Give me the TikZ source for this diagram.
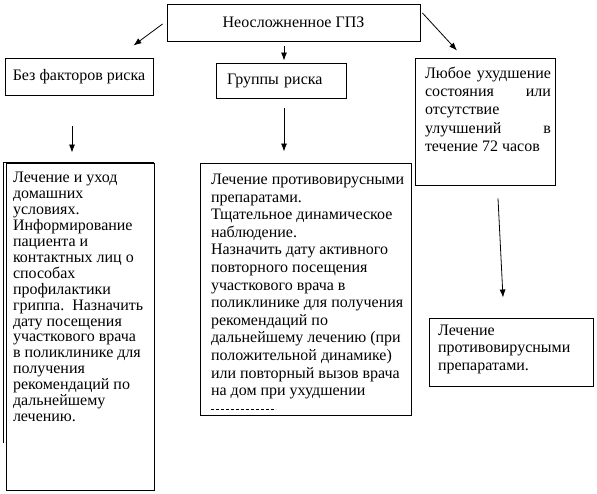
\documentclass[tikz,border=0pt]{standalone}
\usepackage{fontspec}
\setmainfont{Liberation Serif}
\usetikzlibrary{arrows.meta,calc}
\tikzstyle{arrow} = [-{Latex[length=8pt,width=6pt]}, line width=0.8pt]
\tikzstyle{box} = [draw, line width=0.9pt, font=\fontsize{16}{18}\selectfont]
\tikzstyle{tallbox} = [box, inner xsep=0pt]
% text block pinned to the top of a box: height, width, line skip, text
\newcommand{\boxtext}[4]{\parbox[t][#1][t]{#2}{\fontsize{16}{#3}\selectfont\raggedright #4}}

\begin{document}
\begin{tikzpicture}[x=1pt, y=1pt, node distance=50pt]
\useasboundingbox (0,0) rectangle (597,494);

% Nodes
\node (top) [box, minimum width=253pt, minimum height=37pt] at (293.5,471.5) {Неосложненное ГПЗ};
\node (nofactor) [box, below of=top, xshift=-214.5pt, yshift=-4pt, minimum width=148pt, minimum height=37pt] {Без факторов риска};
\node (risk) [box, below of=top, xshift=-12.5pt, yshift=-8pt, minimum width=130pt, minimum height=35pt, text width=108pt, inner xsep=11pt, align=left] {Группы риска};
\node (worse) [tallbox, below of=top, xshift=191.5pt, yshift=-49pt, inner ysep=9pt] {\hspace*{10pt}\boxtext{109pt}{126pt}{18.25}{Любое\hfill ухудшение\\ состояния\hfill или\\ отсутствие\\ улучшений\hfill в\\ течение 72 часов}\hspace*{4pt}};
\node (left) [tallbox, below of=nofactor, xshift=1pt, yshift=-200pt, inner ysep=9.5pt] {\hspace*{7pt}\boxtext{308pt}{141pt}{15.9}{Лечение и уход\\ домашних\\ условиях.\\ Информирование\\ пациента и\\ контактных лиц о\\ способах\\ профилактики\\ гриппа.\ \ Назначить\\ дату посещения\\ участкового врача\\ в поликлинике для\\ получения\\ рекомендаций по\\ дальнейшему\\ лечению.}};
\node (middle) [tallbox, below of=risk, xshift=24.5pt, yshift=-158.5pt, inner ysep=11pt] {\hspace*{11pt}\boxtext{230pt}{200pt}{17.6}{Лечение противовирусными\\ препаратами.\\ Тщательное динамическое\\ наблюдение.\\ Назначить дату активного\\ повторного посещения\\ участкового врача в\\ поликлинике для получения\\ рекомендаций по\\ дальнейшему лечению (при\\ положительной динамике)\\ или повторный вызов врача\\ на дом при ухудшении}};
\node (cure) [tallbox, below of=worse, xshift=26pt, yshift=-180.5pt, inner ysep=7pt] {\hspace*{9pt}\boxtext{54pt}{155pt}{17.5}{Лечение\\ противовирусными\\ препаратами.}};

% arrow ends
\coordinate (a1) at ($(top.west)+(-4,-1.5)$);
\coordinate (b1) at ($(nofactor.north east)+(-20,12)$);
\coordinate (a2) at ($(top.south)+(-9.5,-5)$);
\coordinate (b2) at ($(risk.north)+(3,2)$);
\coordinate (a3) at ($(top.east)+(2,9.5)$);
\coordinate (b3) at ($(worse.north)+(-28,7)$);
\coordinate (a4) at ($(nofactor.south)+(-7,-31)$);
\coordinate (b4) at ($(left.north)+(-8,10)$);
\coordinate (a5) at ($(risk.south)+(3,-10)$);
\coordinate (b5) at ($(middle.north)+(-21.5,11)$);
\coordinate (a6) at ($(worse.south)+(13,-13)$);
\coordinate (b6) at ($(cure.north)+(-8,20)$);

% Arrows
\draw [arrow] (a1) -- (b1);
\draw [arrow] (a2) -- (b2);
\draw [arrow] (a3) -- (b3);
\draw [arrow] (a4) -- (b4);
\draw [arrow] (a5) -- (b5);
\draw [arrow] (a6) -- (b6);

% extra edge on the left box and cut-off last line
\draw [line width=1.4pt] ($(left.north west)+(-2,-280)$) -- ($(left.north west)+(-2,0)$) -- (left.north east);
\draw [line width=0.6pt, dash pattern=on 3pt off 2pt] ($(middle.south west)+(11,6)$) -- ++(65,0);

\end{tikzpicture}
\end{document}
